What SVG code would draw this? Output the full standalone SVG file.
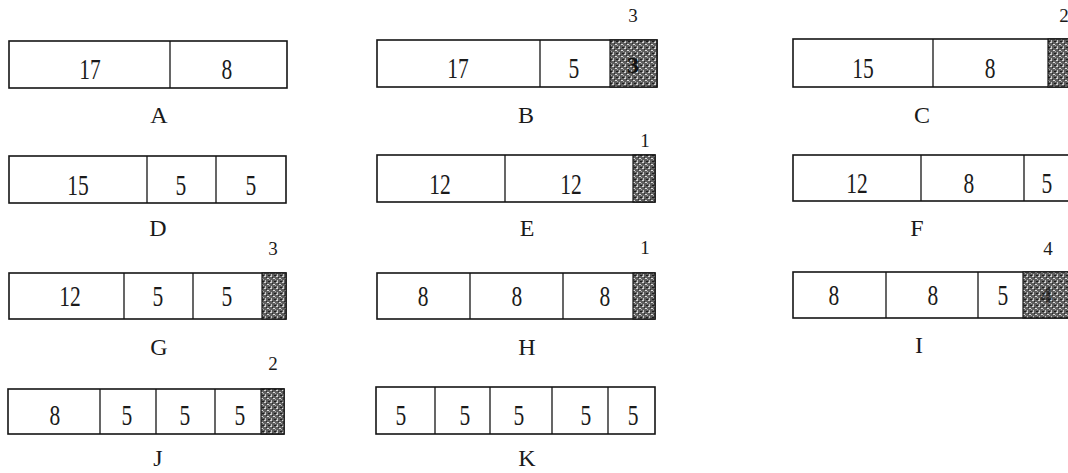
<svg xmlns="http://www.w3.org/2000/svg" width="1068" height="473" viewBox="0 0 1068 473">
<style>
.box{fill:#fff;stroke:#151515;stroke-width:1.6}
.dv{stroke:#151515;stroke-width:1.3;fill:none}
.ws{fill:url(#waste);stroke:#151515;stroke-width:1.2}
.num{font-family:"Liberation Serif","Times New Roman",serif;font-size:25px;text-anchor:middle;fill:#1a1a1a;transform-box:fill-box;transform-origin:50% 50%;transform:scale(0.86,1.15)}
.lbl{font-family:"Liberation Serif","Times New Roman",serif;font-size:24px;text-anchor:middle;fill:#1a1a1a}
.wn{font-family:"Liberation Serif","Times New Roman",serif;font-size:19px;text-anchor:middle;fill:#1a1a1a}
.in{font-family:"Liberation Serif","Times New Roman",serif;font-size:24px;font-weight:bold;text-anchor:middle;fill:#111}
</style>
<defs>
<pattern id="waste" width="6" height="6" patternUnits="userSpaceOnUse">
<rect width="6" height="6" fill="#5e5e5e"/>
<rect x="0" y="0" width="2" height="1" fill="#d6d6d6"/>
<rect x="3" y="2" width="2" height="1" fill="#dedede"/>
<rect x="1" y="4" width="1" height="2" fill="#c6c6c6"/>
<rect x="4" y="5" width="2" height="1" fill="#1e1e1e"/>
<rect x="5" y="3" width="1" height="1" fill="#aaaaaa"/>
<rect x="2" y="1" width="1" height="1" fill="#2a2a2a"/>
</pattern>
</defs>

<g id="A">
<rect class="box" x="9" y="41" width="278" height="47"/>
<line class="dv" x1="170" y1="41" x2="170" y2="88"/>
<text class="num" x="90" y="78">17</text>
<text class="num" x="227" y="78">8</text>
<text class="lbl" x="159" y="123">A</text>
</g>

<g id="B">
<rect class="box" x="377" y="40" width="280" height="47"/>
<line class="dv" x1="540" y1="40" x2="540" y2="87"/>
<rect class="ws" x="610" y="40" width="47" height="47"/>
<text class="num" x="458" y="77">17</text>
<text class="num" x="574" y="77">5</text>
<text class="in" x="633" y="73">3</text>
<text class="wn" x="633" y="22">3</text>
<text class="lbl" x="526" y="123">B</text>
</g>

<g id="C">
<rect class="box" x="793" y="39" width="290" height="48"/>
<line class="dv" x1="933" y1="39" x2="933" y2="87"/>
<rect class="ws" x="1048" y="39" width="35" height="48"/>
<text class="num" x="863" y="77">15</text>
<text class="num" x="990" y="77">8</text>
<text class="wn" x="1064" y="22">2</text>
<text class="lbl" x="922" y="123">C</text>
</g>

<g id="D">
<rect class="box" x="9" y="156" width="277" height="47"/>
<line class="dv" x1="147" y1="156" x2="147" y2="203"/>
<line class="dv" x1="216" y1="156" x2="216" y2="203"/>
<text class="num" x="78" y="194">15</text>
<text class="num" x="181" y="194">5</text>
<text class="num" x="251" y="194">5</text>
<text class="lbl" x="158" y="236">D</text>
</g>

<g id="E">
<rect class="box" x="377" y="155" width="278" height="47"/>
<line class="dv" x1="505" y1="155" x2="505" y2="202"/>
<rect class="ws" x="633" y="155" width="22" height="47"/>
<text class="num" x="440" y="193">12</text>
<text class="num" x="571" y="193">12</text>
<text class="wn" x="645" y="147">1</text>
<text class="lbl" x="527" y="236">E</text>
</g>

<g id="F">
<rect class="box" x="793" y="155" width="290" height="46"/>
<line class="dv" x1="921" y1="155" x2="921" y2="201"/>
<line class="dv" x1="1024" y1="155" x2="1024" y2="201"/>
<text class="num" x="857" y="192">12</text>
<text class="num" x="969" y="192">8</text>
<text class="num" x="1047" y="192">5</text>
<text class="lbl" x="917" y="236">F</text>
</g>

<g id="G">
<rect class="box" x="9" y="273" width="277" height="46"/>
<line class="dv" x1="124" y1="273" x2="124" y2="319"/>
<line class="dv" x1="193" y1="273" x2="193" y2="319"/>
<rect class="ws" x="262" y="273" width="24" height="46"/>
<text class="num" x="70" y="305">12</text>
<text class="num" x="158" y="305">5</text>
<text class="num" x="227" y="305">5</text>
<text class="wn" x="273" y="255">3</text>
<text class="lbl" x="159" y="355">G</text>
</g>

<g id="H">
<rect class="box" x="377" y="273" width="278" height="46"/>
<line class="dv" x1="470" y1="273" x2="470" y2="319"/>
<line class="dv" x1="563" y1="273" x2="563" y2="319"/>
<rect class="ws" x="633" y="273" width="22" height="46"/>
<text class="num" x="423" y="305">8</text>
<text class="num" x="517" y="305">8</text>
<text class="num" x="605" y="305">8</text>
<text class="wn" x="645" y="254">1</text>
<text class="lbl" x="527" y="355">H</text>
</g>

<g id="I">
<rect class="box" x="793" y="272" width="290" height="46"/>
<line class="dv" x1="886" y1="272" x2="886" y2="318"/>
<line class="dv" x1="978" y1="272" x2="978" y2="318"/>
<rect class="ws" x="1023" y="272" width="60" height="46"/>
<text class="num" x="834" y="304">8</text>
<text class="num" x="933" y="304">8</text>
<text class="num" x="1003" y="304">5</text>
<text class="in" x="1046" y="303" fill-opacity="0.6">4</text>
<text class="wn" x="1048" y="255">4</text>
<text class="lbl" x="919" y="353">I</text>
</g>

<g id="J">
<rect class="box" x="8" y="389" width="276" height="45"/>
<line class="dv" x1="100" y1="389" x2="100" y2="434"/>
<line class="dv" x1="156" y1="389" x2="156" y2="434"/>
<line class="dv" x1="215" y1="389" x2="215" y2="434"/>
<rect class="ws" x="261" y="389" width="23" height="45"/>
<text class="num" x="55" y="424">8</text>
<text class="num" x="127" y="424">5</text>
<text class="num" x="185" y="424">5</text>
<text class="num" x="240" y="424">5</text>
<text class="wn" x="273" y="370">2</text>
<text class="lbl" x="158" y="466">J</text>
</g>

<g id="K">
<rect class="box" x="376" y="387" width="279" height="47"/>
<line class="dv" x1="435" y1="387" x2="435" y2="434"/>
<line class="dv" x1="490" y1="387" x2="490" y2="434"/>
<line class="dv" x1="552" y1="387" x2="552" y2="434"/>
<line class="dv" x1="608" y1="387" x2="608" y2="434"/>
<text class="num" x="401" y="424">5</text>
<text class="num" x="465" y="424">5</text>
<text class="num" x="519" y="424">5</text>
<text class="num" x="586" y="424">5</text>
<text class="num" x="633" y="424">5</text>
<text class="lbl" x="527" y="466">K</text>
</g>

<g id="connectors"></g>
</svg>
